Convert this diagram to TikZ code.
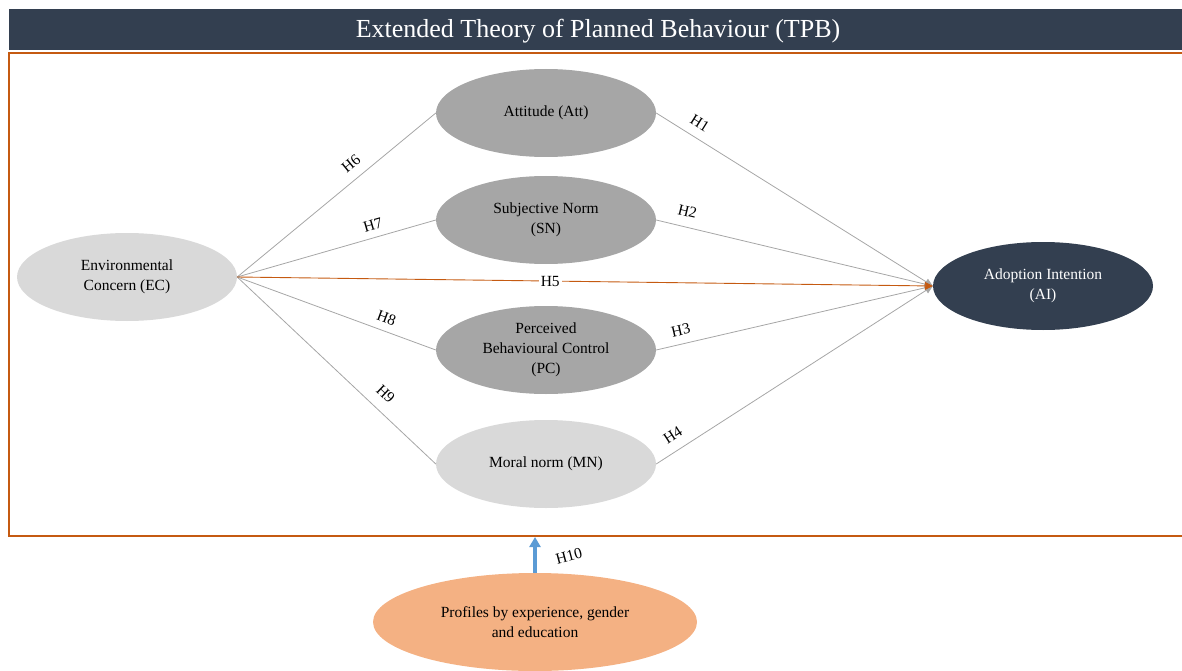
\documentclass[tikz,border=0pt]{standalone}
\usepackage{fontspec}
\setmainfont{Liberation Serif}
\usetikzlibrary{shapes.geometric,arrows.meta}
\definecolor{navy}{HTML}{333F50}
\definecolor{rust}{HTML}{C55A11}
\definecolor{midgrey}{HTML}{A6A6A6}
\definecolor{lightgrey}{HTML}{D9D9D9}
\definecolor{peach}{HTML}{F4B183}
\definecolor{skyblue}{HTML}{5B9BD5}
\begin{document}
\begin{tikzpicture}[x=1pt,y=-1pt,
  construct/.style={ellipse,inner sep=0pt,minimum width=220pt,minimum height=88pt,
    align=center,font=\fontsize{15.5}{20}\selectfont},
  link/.style={draw=midgrey,line width=0.8pt},
  tolink/.style={link,-{Triangle[length=8pt,width=7pt]}},
  hyp/.style={font=\fontsize{15.5}{18}\selectfont,inner sep=2pt},
  lift/.style={sloped,above=#1},
  lift/.default=6pt]
\useasboundingbox (0,0) rectangle (1182,671);

% title bar
\fill[navy] (9,9) rectangle (1182,50);
\node[text=white,font=\fontsize{26}{30}\selectfont] (title) at (598,31) {Extended Theory of Planned Behaviour (TPB)};

% model frame (open on the right)
\draw[rust,line width=1.6pt] (1182,53) -- (9,53) -- (9,536) -- (1182,536);

% constructs
\node[construct,fill=lightgrey] (ec) at (127,277) {Environmental\\Concern (EC)};
\node[construct,fill=midgrey] (att) at (546,113) {Attitude (Att)};
\node[construct,fill=midgrey] (sn) at (546,220) {Subjective Norm\\(SN)};
\node[construct,fill=midgrey] (pc) at (546,350) {Perceived\\Behavioural Control\\(PC)};
\node[construct,fill=lightgrey] (mn) at (546,464) {Moral norm (MN)};
\node[construct,fill=navy,text=white] (ai) at (1043,286) {Adoption Intention\\(AI)};
\node[construct,fill=peach,minimum width=324pt,minimum height=98pt] (prof) at (535,622) {Profiles by experience, gender\\and education};

% EC to the TPB constructs
\draw[link] (ec.east) -- node[hyp,lift=7pt,pos=0.62] {H6} (att.west);
\draw[link] (ec.east) -- node[hyp,lift=5pt,pos=0.7] {H7} (sn.west);
\draw[link] (ec.east) -- node[hyp,lift=5pt,pos=0.73] {H8} (pc.west);
\draw[link] (ec.east) -- node[hyp,lift=9pt,pos=0.69] {H9} (mn.west);

% TPB constructs to AI
\draw[tolink] (att.east) -- node[hyp,lift=7pt,pos=0.13] {H1} (ai.west);
\draw[tolink] (sn.east) -- node[hyp,lift=8pt,pos=0.1] {H2} (ai.west);
\draw[tolink] (pc.east) -- node[hyp,lift=6pt,pos=0.1] {H3} (ai.west);
\draw[tolink] (mn.east) -- node[hyp,lift=8pt,pos=0.09] {H4} (ai.west);

% direct effect
\draw[draw=rust,line width=0.9pt,-{Triangle[length=8pt,width=8pt]}] (ec.east) -- node[hyp,fill=white,pos=0.45] {H5} (ai.west);

% moderation by profiles
\coordinate (frameb) at (535,537);
\draw[skyblue,line width=3.5pt,-{Triangle[length=10pt,width=11pt]}] (prof.north) -- (frameb);
\node[hyp,rotate=15] (h10) at (569,556) {H10};
\end{tikzpicture}
\end{document}
